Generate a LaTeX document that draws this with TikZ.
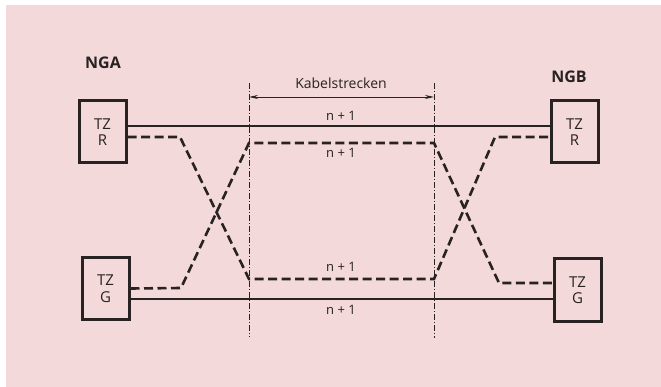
\documentclass[tikz,border=0pt]{standalone}
\usepackage{fontspec}
\setmainfont{Open Sans}
\usepackage{xcolor}
\usepackage{tikz}
\usetikzlibrary{
  positioning,
  arrows.meta
}
\definecolor{bgpink}{RGB}{243,217,217}
\definecolor{ink}{RGB}{40,34,34}

\begin{document}
\begin{tikzpicture}[
  x=1pt, y=-1pt,
  tzbox/.style={
    rectangle,
    draw=ink,
    line width=3pt,
    minimum width=47pt,
    minimum height=62pt,
    inner sep=0pt,
    align=center,
    text=ink,
    font=\fontsize{15}{16.5}\selectfont
  },
  nglabel/.style={
    text=ink,
    font=\fontsize{16}{16}\selectfont\bfseries
  },
  nlabel/.style={
    text=ink,
    font=\fontsize{13}{13}\selectfont
  },
  cable/.style={
    draw=ink,
    line width=2pt
  },
  spare/.style={
    draw=ink,
    line width=2.6pt,
    dash pattern=on 9pt off 4.5pt
  },
  border/.style={
    draw=ink,
    line width=0.7pt,
    dash pattern=on 6pt off 2pt on 1pt off 2pt
  },
  span/.style={
    {Stealth[length=9pt, width=4pt]}-{Stealth[length=9pt, width=4pt]},
    draw=ink,
    line width=0.8pt
  }
]

% Background
\fill[white] (0,0) rectangle (661,387);
\fill[bgpink] (6,5) rectangle (661,387);
\useasboundingbox (0,0) rectangle (661,387);

% Network groups
\node[nglabel] (nga) at (103,63) {NGA};
\node[nglabel] (ngb) at (569,77) {NGB};

% Terminal boxes
\node[tzbox] (tzra) at (102.5,132) {TZ\\R};
\node[tzbox] (tzga) at (105.5,288.5) {TZ\\G};
\node[tzbox] (tzrb) at (574.5,132) {TZ\\R};
\node[tzbox] (tzgb) at (577.5,290) {TZ\\G};

% Cable section limits
\coordinate (lt) at (249,83);
\coordinate (lb) at (249,337);
\coordinate (rt) at (434,83);
\coordinate (rb) at (434,338);
\draw[border] (lt) -- (lb);
\draw[border] (rt) -- (rb);
\coordinate (al) at (249,97);
\coordinate (ar) at (434,97);
\draw[span] (al) -- (ar);
\node[nlabel, font=\fontsize{14}{14}\selectfont] (kab) at (341,83) {Kabelstrecken};

% Bend points of the spare paths
\coordinate (ra1) at (180,137);
\coordinate (ra2) at (249,279);
\coordinate (rb2) at (434,279);
\coordinate (rb1) at (495,137);
\coordinate (ga1) at (181,288);
\coordinate (ga2) at (249,143);
\coordinate (gb2) at (434,143);
\coordinate (gb1) at (499,283);

% Direct paths
\draw[cable] ([yshift=6pt]tzra.east) -- ([yshift=6pt]tzrb.west);
\draw[cable] ([yshift=-10.5pt]tzga.east) -- ([yshift=-9pt]tzgb.west);

% Crossed spare paths
\draw[spare] ([yshift=-5pt]tzra.east) -- (ra1) -- (ra2) -- (rb2) -- (rb1) -- ([yshift=-5pt]tzrb.west);
\draw[spare] (tzga.east) -- (ga1) -- (ga2) -- (gb2) -- (gb1) -- ([yshift=7pt]tzgb.west);

% Labels
\node[nlabel] (n1) at (341,116) {n + 1};
\node[nlabel] (n2) at (341,153) {n + 1};
\node[nlabel] (n3) at (341,267) {n + 1};
\node[nlabel] (n4) at (341,310) {n + 1};

\end{tikzpicture}
\end{document}
